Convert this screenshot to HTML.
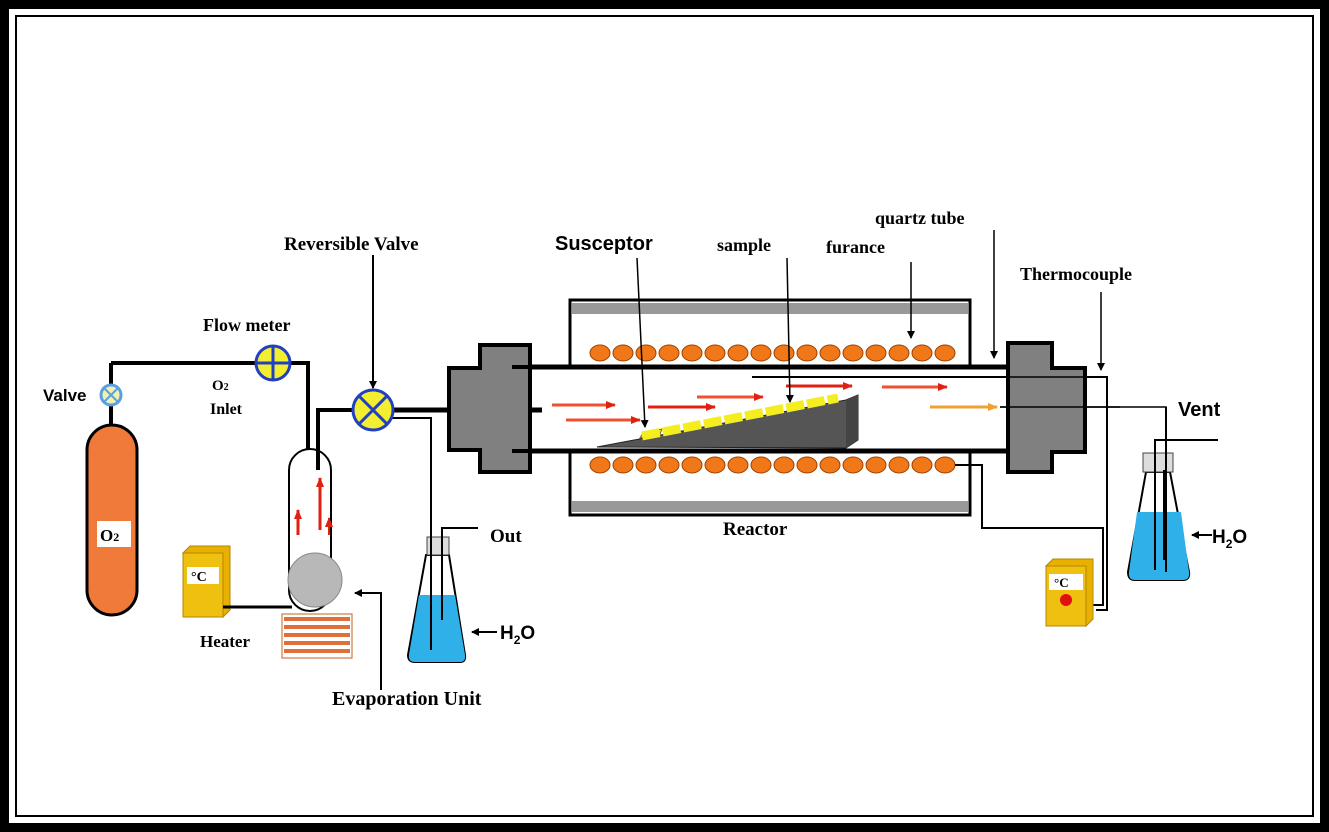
<!DOCTYPE html>
<html><head><style>
html,body{margin:0;padding:0;background:#000;}
svg{display:block;}
text{font-family:"Liberation Serif",serif;font-weight:bold;}
.s{font-family:"Liberation Sans",sans-serif;}
</style></head><body>
<svg width="1329" height="832" viewBox="0 0 1329 832" xmlns="http://www.w3.org/2000/svg">
<defs>
<marker id="a" markerWidth="8" markerHeight="8" refX="7" refY="4" orient="auto" markerUnits="userSpaceOnUse"><path d="M0,0 L8,4 L0,8 z" fill="#000"/></marker>
<marker id="r" markerWidth="10" markerHeight="8" refX="9" refY="4" orient="auto" markerUnits="userSpaceOnUse"><path d="M0,0 L10,4 L0,8 z" fill="#e02010"/></marker>
<marker id="o" markerWidth="10" markerHeight="8" refX="9" refY="4" orient="auto" markerUnits="userSpaceOnUse"><path d="M0,0 L10,4 L0,8 z" fill="#f0a030"/></marker>
</defs>
<rect x="9" y="9" width="1311" height="814" fill="#fff"/>
<rect x="16" y="16" width="1297" height="800" fill="none" stroke="#000" stroke-width="2"/>

<!-- O2 cylinder -->
<path d="M111,363 L111,425 M111,363 L308,363 L308,555" stroke="#000" stroke-width="4" fill="none"/>
<rect x="87" y="425" width="50" height="190" rx="25" fill="#f07a3a" stroke="#000" stroke-width="3"/>
<rect x="97" y="521" width="34" height="26" fill="#fff"/>
<text x="100" y="541" font-size="17">O<tspan font-size="12">2</tspan></text>
<circle cx="111" cy="395" r="10" fill="#f0f0b0" stroke="#5aa0e0" stroke-width="3"/>
<path d="M104,388 L118,402 M118,388 L104,402" stroke="#5aa0e0" stroke-width="2"/>
<text class="s" x="43" y="401" font-size="17">Valve</text>
<!-- flow meter -->
<circle cx="273" cy="363" r="17" fill="#f4ee30" stroke="#2040c0" stroke-width="3"/>
<path d="M256,363 L290,363 M273,346 L273,380" stroke="#2040c0" stroke-width="3"/>
<text x="203" y="331" font-size="18">Flow meter</text>
<text x="212" y="390" font-size="15" font-weight="normal">O<tspan font-size="10">2</tspan></text>
<text x="210" y="414" font-size="16" font-weight="normal">Inlet</text>

<!-- evaporation tube -->
<path d="M289,470 A21,21 0 0 1 331,470 L331,590 A21,21 0 0 1 289,590 Z" fill="#fff" stroke="#000" stroke-width="2"/>
<circle cx="315" cy="580" r="27" fill="#b8b8b8" stroke="#888" stroke-width="1"/>
<path d="M318,470 L318,410 L355,410" stroke="#000" stroke-width="4" fill="none"/>
<path d="M298,535 L298,510" stroke="#e02010" stroke-width="3" marker-end="url(#r)"/>
<path d="M320,530 L320,478" stroke="#e02010" stroke-width="3" marker-end="url(#r)"/>
<path d="M329,535 L329,518" stroke="#e02010" stroke-width="2" marker-end="url(#r)"/>
<!-- heater -->
<rect x="183" y="553" width="40" height="64" fill="#f0c010" stroke="#b08800"/>
<path d="M183,553 L190,546 L230,546 L230,610 L223,617 L223,553 Z" fill="#e8b000" stroke="#b08800"/>
<rect x="187" y="567" width="32" height="17" fill="#fff"/>
<text x="191" y="581" font-size="14">°C</text>
<path d="M223,607 L292,607" stroke="#000" stroke-width="3"/>
<rect x="282" y="614" width="70" height="44" fill="#fff" stroke="#c06020" stroke-width="1"/>
<g stroke="#e0703a" stroke-width="4"><path d="M284,619H350M284,627H350M284,635H350M284,643H350M284,651H350"/></g>
<text x="200" y="647" font-size="17">Heater</text>
<path d="M381,690 L381,593 L355,593" stroke="#000" stroke-width="2" fill="none" marker-end="url(#a)"/>
<text x="332" y="705" font-size="20">Evaporation Unit</text>

<!-- reversible valve -->
<path d="M373,255 L373,388" stroke="#000" stroke-width="2" marker-end="url(#a)"/>
<text x="284" y="250" font-size="19">Reversible Valve</text>
<path d="M393,410 L540,410" stroke="#000" stroke-width="5"/>
<path d="M392,418 L431,418 L431,650" stroke="#000" stroke-width="2" fill="none"/>
<circle cx="373" cy="410" r="20" fill="#f4ee30" stroke="#2040c0" stroke-width="3"/>
<path d="M359,396 L387,424 M387,396 L359,424" stroke="#2040c0" stroke-width="3"/>
<!-- left flask -->
<path d="M431,555 L426,555 L408,655 Q408,662 415,662 L460,662 Q466,662 465,655 L449,555 Z" fill="#fff" stroke="#000" stroke-width="2"/>
<path d="M419,595 L455,595 L465,655 Q466,662 460,662 L415,662 Q408,662 409,655 Z" fill="#30b0e8"/>
<rect x="427" y="537" width="22" height="18" fill="#ddd" stroke="#444"/>
<path d="M442,540 L442,528 L478,528" stroke="#000" stroke-width="2" fill="none"/>
<path d="M431,418 L431,650 M442,540 L442,620" stroke="#000" stroke-width="2"/>
<text x="490" y="542" font-size="19">Out</text>
<path d="M497,632 L472,632" stroke="#000" stroke-width="2" marker-end="url(#a)"/>
<text class="s" x="500" y="639" font-size="19">H<tspan font-size="12" dy="5">2</tspan><tspan dy="-5">O</tspan></text>

<!-- furnace -->
<rect x="570" y="300" width="400" height="215" fill="#fff" stroke="#000" stroke-width="3"/>
<rect x="572" y="303" width="396" height="11" fill="#999"/>
<rect x="572" y="501" width="396" height="11" fill="#999"/>
<rect x="512" y="366" width="496" height="85" fill="#fff"/>
<path d="M512,367 L1008,367 M512,451 L1008,451" stroke="#000" stroke-width="5"/>
<g fill="#f07818" stroke="#a04000" stroke-width="1">
<ellipse cx="600" cy="353" rx="10" ry="8"/><ellipse cx="623" cy="353" rx="10" ry="8"/><ellipse cx="646" cy="353" rx="10" ry="8"/><ellipse cx="669" cy="353" rx="10" ry="8"/><ellipse cx="692" cy="353" rx="10" ry="8"/><ellipse cx="715" cy="353" rx="10" ry="8"/><ellipse cx="738" cy="353" rx="10" ry="8"/><ellipse cx="761" cy="353" rx="10" ry="8"/><ellipse cx="784" cy="353" rx="10" ry="8"/><ellipse cx="807" cy="353" rx="10" ry="8"/><ellipse cx="830" cy="353" rx="10" ry="8"/><ellipse cx="853" cy="353" rx="10" ry="8"/><ellipse cx="876" cy="353" rx="10" ry="8"/><ellipse cx="899" cy="353" rx="10" ry="8"/><ellipse cx="922" cy="353" rx="10" ry="8"/><ellipse cx="945" cy="353" rx="10" ry="8"/>
<ellipse cx="600" cy="465" rx="10" ry="8"/><ellipse cx="623" cy="465" rx="10" ry="8"/><ellipse cx="646" cy="465" rx="10" ry="8"/><ellipse cx="669" cy="465" rx="10" ry="8"/><ellipse cx="692" cy="465" rx="10" ry="8"/><ellipse cx="715" cy="465" rx="10" ry="8"/><ellipse cx="738" cy="465" rx="10" ry="8"/><ellipse cx="761" cy="465" rx="10" ry="8"/><ellipse cx="784" cy="465" rx="10" ry="8"/><ellipse cx="807" cy="465" rx="10" ry="8"/><ellipse cx="830" cy="465" rx="10" ry="8"/><ellipse cx="853" cy="465" rx="10" ry="8"/><ellipse cx="876" cy="465" rx="10" ry="8"/><ellipse cx="899" cy="465" rx="10" ry="8"/><ellipse cx="922" cy="465" rx="10" ry="8"/><ellipse cx="945" cy="465" rx="10" ry="8"/>
</g>
<!-- susceptor wedge -->
<path d="M597,447 L846,400 L858,395 L858,440 L846,448 Z" fill="#555" stroke="#222"/>
<path d="M846,400 L858,395 L858,440 L846,448 Z" fill="#444"/>
<g fill="#f4ee20" stroke="#806000" stroke-width="1">
<path d="M640,438 L660,434 L662,429 L643,433Z"/>
<path d="M640,440 L838,401 L840,395 L643,433 Z" fill="none" stroke="none"/>
</g>
<path d="M642,436 L838,398" stroke="#f4ee20" stroke-width="9" stroke-dasharray="18,3"/>
<!-- thermocouple line -->
<path d="M752,377 L1107,377 L1107,610 L1096,610" stroke="#000" stroke-width="2" fill="none"/>
<!-- vent thin line -->
<path d="M1000,407 L1166,407 L1166,572" stroke="#000" stroke-width="1.5" fill="none"/>
<!-- red arrows -->
<g stroke-width="3">
<path d="M552,405 L615,405" stroke="#f05030" marker-end="url(#r)"/>
<path d="M566,420 L640,420" stroke="#f05030" marker-end="url(#r)"/>
<path d="M648,407 L715,407" stroke="#e02010" marker-end="url(#r)"/>
<path d="M697,397 L763,397" stroke="#f05030" marker-end="url(#r)"/>
<path d="M786,386 L852,386" stroke="#e02010" marker-end="url(#r)"/>
<path d="M882,387 L947,387" stroke="#f05030" marker-end="url(#r)"/>
<path d="M930,407 L997,407" stroke="#f0a030" marker-end="url(#o)"/>
</g>
<!-- left cap -->
<path d="M480,345 L530,345 L530,472 L480,472 L480,450 L449,450 L449,368 L480,368 Z" fill="#808080" stroke="#000" stroke-width="4"/>
<path d="M530,367 L512,367 M530,451 L512,451" stroke="#000" stroke-width="4"/>
<path d="M530,410 L542,410" stroke="#000" stroke-width="5"/>
<!-- right cap -->
<path d="M1008,343 L1052,343 L1052,368 L1085,368 L1085,452 L1052,452 L1052,472 L1008,472 Z" fill="#808080" stroke="#000" stroke-width="4"/>
<path d="M1000,377 L1107,377 M1000,407 L1120,407" stroke="#000" stroke-width="1.5"/>
<!-- coil lead -->
<path d="M955,465 L982,465 L982,528 L1103,528 L1103,605 L1092,605" stroke="#000" stroke-width="2" fill="none"/>
<!-- right controller -->
<rect x="1046" y="566" width="40" height="60" fill="#f0c010" stroke="#b08800"/>
<path d="M1046,566 L1053,559 L1093,559 L1093,619 L1086,626 L1086,566 Z" fill="#e8b000" stroke="#b08800"/>
<rect x="1049" y="574" width="34" height="16" fill="#fff"/>
<text x="1054" y="587" font-size="13">°C</text>
<circle cx="1066" cy="600" r="6" fill="#e01010"/>
<!-- right flask -->
<path d="M1146,472 L1128,572 Q1128,580 1135,580 L1183,580 Q1190,580 1189,572 L1170,472 Z" fill="#fff" stroke="#000" stroke-width="2"/>
<path d="M1137,512 L1181,512 L1189,572 Q1190,580 1183,580 L1135,580 Q1128,580 1129,572 Z" fill="#30b0e8"/>
<rect x="1143" y="453" width="30" height="19" fill="#ddd" stroke="#444"/>
<path d="M1166,407 L1166,572 M1164,560 L1164,470 M1155,570 L1155,440 L1218,440" stroke="#000" stroke-width="2" fill="none"/>
<text class="s" x="1178" y="416" font-size="20">Vent</text>
<path d="M1212,535 L1192,535" stroke="#000" stroke-width="2" marker-end="url(#a)"/>
<text class="s" x="1212" y="543" font-size="19">H<tspan font-size="12" dy="5">2</tspan><tspan dy="-5">O</tspan></text>

<!-- labels & pointer lines -->
<text class="s" x="555" y="250" font-size="20">Susceptor</text>
<path d="M637,258 L645,427" stroke="#000" stroke-width="1.5" marker-end="url(#a)"/>
<text x="717" y="251" font-size="18">sample</text>
<path d="M787,258 L790,402" stroke="#000" stroke-width="1.5" marker-end="url(#a)"/>
<text x="826" y="253" font-size="18">furance</text>
<path d="M911,262 L911,338" stroke="#000" stroke-width="1.5" marker-end="url(#a)"/>
<text x="875" y="224" font-size="18">quartz tube</text>
<path d="M994,230 L994,358" stroke="#000" stroke-width="1.5" marker-end="url(#a)"/>
<text x="1020" y="280" font-size="18">Thermocouple</text>
<path d="M1101,292 L1101,370" stroke="#000" stroke-width="1.5" marker-end="url(#a)"/>
<text x="723" y="535" font-size="19">Reactor</text>
</svg>
</body></html>
